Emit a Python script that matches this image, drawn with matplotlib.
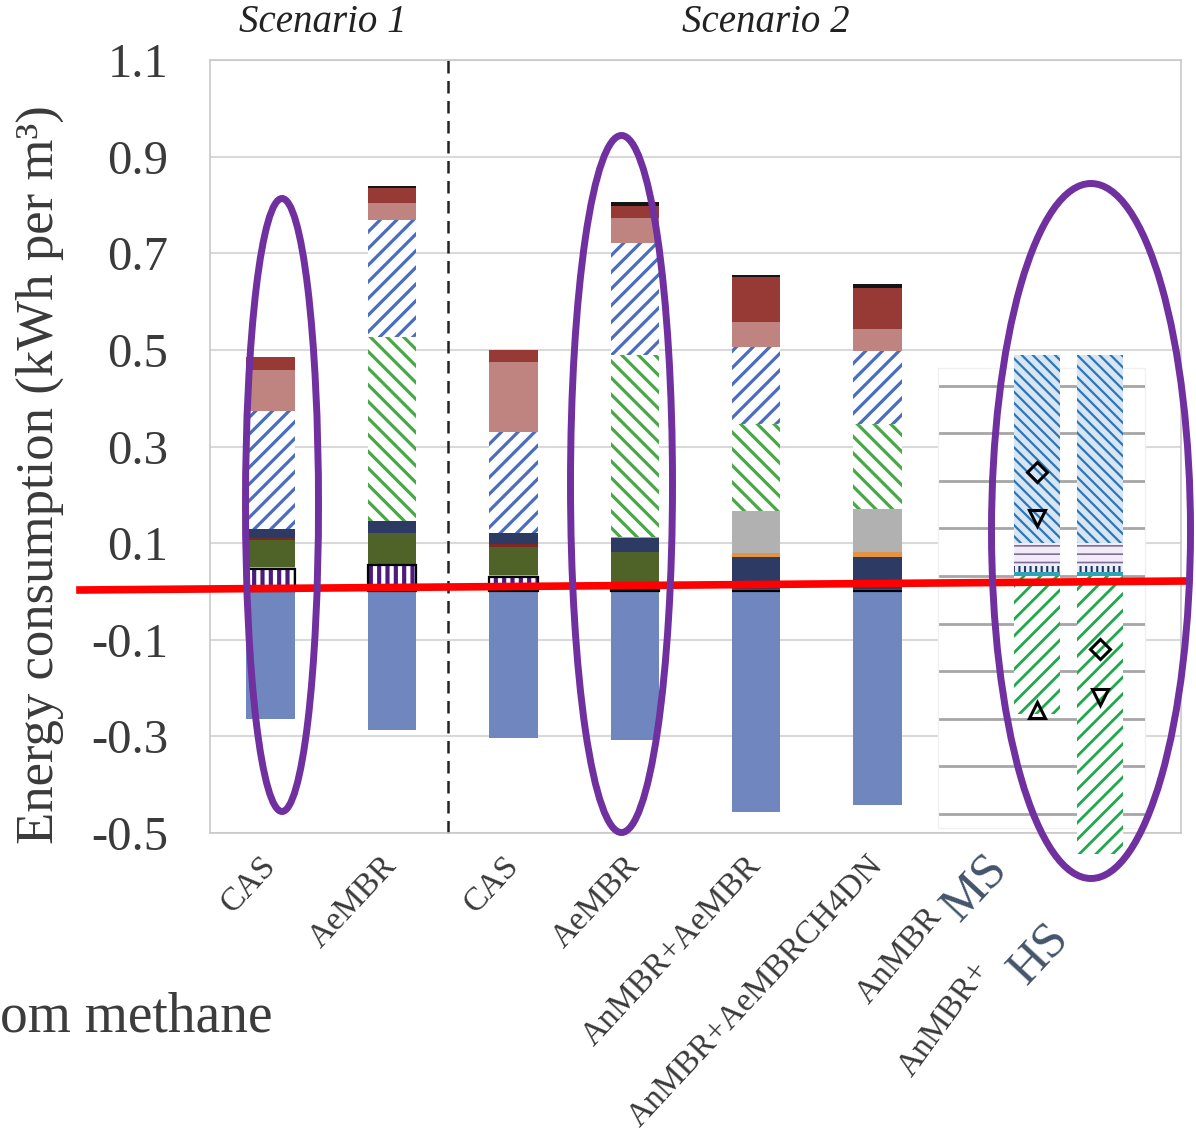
import matplotlib
matplotlib.use("Agg")
import matplotlib.pyplot as plt
from matplotlib.patches import Ellipse, Rectangle
from matplotlib.lines import Line2D

W, H, DPI = 1196, 1140, 100

plt.rcParams["font.family"] = ["Liberation Serif", "DejaVu Serif"]

# ---- main chart data (kWh per m3), stacked from the bottom up ----
categories = ["CAS", "AeMBR", "CAS", "AeMBR", "AnMBR+AeMBR", "AnMBR+AeMBRCH4DN"]
stripe = [0.046, 0.054, 0.030, 0.004, 0.0, 0.0]
yellow = [0.004, 0.0, 0.004, 0.0, 0.0, 0.0]
olive = [0.056, 0.066, 0.059, 0.077, 0.005, 0.005]
red_line = [0.004, 0.0, 0.006, 0.0, 0.0, 0.0]
navy = [0.019, 0.025, 0.021, 0.029, 0.066, 0.067]
orange = [0.0, 0.0, 0.0, 0.003, 0.008, 0.009]
grey = [0.0, 0.0, 0.0, 0.0, 0.087, 0.089]
green_hatch = [0.0, 0.381, 0.0, 0.376, 0.181, 0.177]
blue_hatch = [0.244, 0.242, 0.209, 0.232, 0.158, 0.151]
rose = [0.085, 0.037, 0.145, 0.051, 0.053, 0.046]
dark_red = [0.027, 0.031, 0.026, 0.025, 0.092, 0.085]
black_top = [0.0, 0.003, 0.0, 0.009, 0.006, 0.008]
methane = [-0.265, -0.286, -0.303, -0.308, -0.456, -0.442]

yticks = [-0.5, -0.3, -0.1, 0.1, 0.3, 0.5, 0.7, 0.9, 1.1]

# ---- pasted AnMBR panel (MS / HS) ----
panel_cats = ["MS", "HS"]
panel_teal = [0.008, 0.008]
panel_dots = [0.012, 0.012]
panel_wave = [0.049, 0.049]
panel_blue = [0.395, 0.395]
panel_green = [-0.290, -0.585]
panel_diamond = [0.219, -0.154]
panel_down = [0.121, -0.254]
panel_up = [-0.282, None]
panel_grid = [-0.5, -0.4, -0.3, -0.2, -0.1, 0.0, 0.1, 0.2, 0.3, 0.4]


def fx(px):
    return px / W


def fy(py):
    return 1 - py / H


def set_hatch_lw(patches, lw):
    for p in patches:
        try:
            p.set_hatch_linewidth(lw)
        except AttributeError:
            pass


fig = plt.figure(figsize=(W / DPI, H / DPI), dpi=DPI)
fig.patch.set_facecolor("white")

ax = fig.add_axes([fx(210), fy(833), fx(1181) - fx(210), (833 - 60) / H])
x = list(range(len(categories)))
bw = 0.4

# (values, face, hatch colour, hatch, hatch lw)
layers = [
    (stripe, "white", "#4b1c80", "||", 3.0),
    (yellow, "#c8c24a", None, None, 0),
    (olive, "#4f6228", None, None, 0),
    (red_line, "#7b2b24", None, None, 0),
    (navy, "#2c3a64", None, None, 0),
    (orange, "#e39443", None, None, 0),
    (grey, "#b1b1b1", None, None, 0),
    (green_hatch, "white", "#48a846", "\\\\", 2.3),
    (blue_hatch, "white", "#4a6dbf", "//", 2.3),
    (rose, "#bf8480", None, None, 0),
    (dark_red, "#973a36", None, None, 0),
    (black_top, "#151515", None, None, 0),
]

bottom = [0.0] * len(categories)
for vals, face, hcol, hatch, hlw in layers:
    if hatch:
        bars = ax.bar(x, vals, bw, bottom=bottom, color=face, edgecolor=hcol,
                      hatch=hatch, linewidth=0, zorder=3)
        set_hatch_lw(bars, hlw)
    else:
        ax.bar(x, vals, bw, bottom=bottom, color=face, linewidth=0, zorder=3)
    if vals is stripe:
        ax.bar(x, [v if v > 0 else 0 for v in vals], bw, fill=False,
               edgecolor="black", linewidth=1.6, zorder=4)
    bottom = [b + v for b, v in zip(bottom, vals)]

ax.bar(x, methane, bw, color="#6f86bf", linewidth=0, zorder=3)

ax.set_xlim(-0.5, 7.5)
ax.set_ylim(-0.5, 1.1)
ax.set_yticks(yticks)
ax.set_yticklabels([f"{v:.1f}" for v in yticks])
ax.tick_params(axis="y", length=0, pad=30, labelsize=35, labelcolor="#3a3a3a")
ax.set_xticks(x)
ax.set_xticklabels(categories, rotation=47, ha="right", va="center",
                   rotation_mode="anchor")
ax.tick_params(axis="x", length=0, pad=20, labelsize=24, labelcolor="#3a3a3a")
ax.yaxis.grid(True, color="#d9d9d9", linewidth=1.5, zorder=0)
ax.set_axisbelow(True)
for s in ax.spines.values():
    s.set_color("#c8c8c8")
    s.set_linewidth(1.2)
ax.axvline(1.46, color="#222222", linewidth=1.8, linestyle=(0, (5, 3)),
           ymin=0, ymax=1, zorder=2, clip_on=False)

fig.text(fx(40), fy(475), "Energy consumption (kWh per m³)", rotation=90,
         ha="center", va="center", fontsize=38, color="#3a3a3a")
fig.text(fx(323), fy(22), "Scenario 1", family="Liberation Serif",
         style="italic", fontsize=28, ha="center", va="center",
         color="#222222")
fig.text(fx(766), fy(22), "Scenario 2", family="Liberation Serif",
         style="italic", fontsize=28, ha="center", va="center",
         color="#222222")
fig.text(fx(0), fy(1017), "om methane", fontsize=40, ha="left", va="center",
         color="#3c3c3c")

# ---- white backing for the pasted panel ----
fig.patches.append(Rectangle((fx(938), fy(828)), fx(1145) - fx(938),
                             (828 - 368) / H, transform=fig.transFigure,
                             facecolor="white", edgecolor="#f0f0f0",
                             linewidth=1, zorder=1))

ax2 = fig.add_axes([fx(938), fy(870), fx(1145) - fx(938), (870 - 340) / H])
ax2.set_zorder(2)
ax2.patch.set_alpha(0)
ax2.set_xlim(-1.571, 1.714)
ax2.set_ylim(-0.6176, 0.4958)
ax2.axis("off")
for g in panel_grid:
    ax2.axhline(g, xmin=0.01, xmax=1.0, color="#a6a6a6", linewidth=2,
                zorder=1)

px = [0, 1]
pw = 0.73
pb = [0.0, 0.0]
panel_layers = [
    (panel_teal, "#2fa3b8", None, None, 0),
    (panel_dots, "#e8eef6", "#1f3864", "|||", 1.5),
    (panel_wave, "#f1ecf6", "#7d6c9c", "--", 1.2),
    (panel_blue, "#d6e6f5", "#2e75b6", "\\\\\\", 1.6),
]
for vals, face, hcol, hatch, hlw in panel_layers:
    if hatch:
        bars = ax2.bar(px, vals, pw, bottom=pb, color=face, edgecolor=hcol,
                       hatch=hatch, linewidth=0, zorder=3)
        set_hatch_lw(bars, hlw)
    else:
        ax2.bar(px, vals, pw, bottom=pb, color=face, linewidth=0, zorder=3)
    pb = [b + v for b, v in zip(pb, vals)]
bars = ax2.bar(px, panel_green, pw, color="white", edgecolor="#1fa84c",
               hatch="//", linewidth=0, zorder=3)
set_hatch_lw(bars, 2.0)

mk = dict(linestyle="none", markerfacecolor="none", markeredgecolor="black",
          markeredgewidth=2.2, zorder=5)
ax2.plot(px, panel_diamond, marker="D", markersize=10, **mk)
ax2.plot(px, panel_down, marker="v", markersize=11, **mk)
up_x = [p for p, v in zip(px, panel_up) if v is not None]
up_y = [v for v in panel_up if v is not None]
ax2.plot(up_x, up_y, marker="^", markersize=11, **mk)

# labels of the pasted panel
fig.text(fx(936), fy(912), "AnMBR", rotation=50, ha="right", va="center",
         rotation_mode="anchor", fontsize=24, color="#3a3a3a")
fig.text(fx(984), fy(965), "AnMBR+", rotation=54, ha="right", va="center",
         rotation_mode="anchor", fontsize=24, color="#3a3a3a")
fig.text(fx(975), fy(888), "MS", rotation=47, ha="center", va="center",
         rotation_mode="anchor", fontsize=36, color="#44546a")
fig.text(fx(1039), fy(954), "HS", rotation=47, ha="center", va="center",
         rotation_mode="anchor", fontsize=36, color="#44546a")

# ---- highlight overlay: zero line and rings ----
fig.add_artist(Line2D([fx(80), fx(1185)], [fy(590), fy(581)],
                      transform=fig.transFigure, color="#ff0000",
                      linewidth=5.5, zorder=6))
for cx, cy, ew, eh in [(282, 505, 73, 613), (621.5, 484, 102, 697),
                       (1091, 531, 199, 695)]:
    fig.add_artist(Ellipse((fx(cx), fy(cy)), ew / W, eh / H,
                           transform=fig.transFigure, fill=False,
                           edgecolor="#7030a0", linewidth=5, zorder=7))

fig.savefig("out.png", dpi=DPI)
